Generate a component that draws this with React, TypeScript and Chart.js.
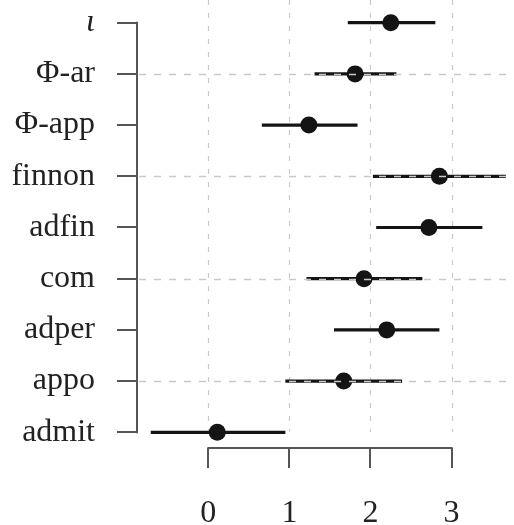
import { useEffect, useRef } from 'react';
import { Chart, registerables } from 'chart.js';

Chart.register(...registerables);

// rows listed bottom to top
const categories = ['admit', 'appo', 'adper', 'com', 'adfin', 'finnon', 'Φ-app', 'Φ-ar', 'ι'];
const estimates = [0.11, 1.67, 2.2, 1.92, 2.72, 2.85, 1.24, 1.81, 2.25];
const lowerBounds = [-0.71, 0.95, 1.55, 1.21, 2.07, 2.03, 0.66, 1.31, 1.72];
const upperBounds = [0.95, 2.39, 2.85, 2.64, 3.38, 3.67, 1.84, 2.32, 2.8];
const xTickValues = [0, 1, 2, 3];
const gridRows = [1, 3, 5, 7];

const FONT = '"Liberation Serif", "Times New Roman", serif';
const AXIS_COLOR = '#555555';
const GRID_COLOR = '#c9c9c9';

const coefPlugin = {
  id: 'coefPlugin',
  beforeDatasetsDraw(chart: any) {
    const { ctx, chartArea } = chart;
    const sx = chart.scales.x;
    const sy = chart.scales.y;
    ctx.save();
    // vertical dashed grid lines (under data)
    ctx.strokeStyle = GRID_COLOR;
    ctx.lineWidth = 1.2;
    ctx.setLineDash([5, 8]);
    xTickValues.forEach((v) => {
      const px = Math.round(sx.getPixelForValue(v)) + 0.5;
      ctx.beginPath();
      ctx.moveTo(px, chartArea.top);
      ctx.lineTo(px, sy.getPixelForValue(0));
      ctx.stroke();
    });
    // error bars
    ctx.setLineDash([]);
    ctx.strokeStyle = '#141414';
    ctx.lineWidth = 3.2;
    ctx.lineCap = 'butt';
    categories.forEach((_, i) => {
      const py = sy.getPixelForValue(i);
      ctx.beginPath();
      ctx.moveTo(sx.getPixelForValue(lowerBounds[i]), py);
      ctx.lineTo(sx.getPixelForValue(upperBounds[i]), py);
      ctx.stroke();
    });
    ctx.restore();
  },
  afterDatasetsDraw(chart: any) {
    const { ctx, chartArea } = chart;
    const sx = chart.scales.x;
    const sy = chart.scales.y;
    ctx.save();
    // horizontal dashed grid lines (over data)
    ctx.strokeStyle = GRID_COLOR;
    ctx.lineWidth = 1.4;
    ctx.setLineDash([7, 8]);
    gridRows.forEach((r) => {
      const py = Math.round(sy.getPixelForValue(r)) + 0.5;
      ctx.beginPath();
      ctx.moveTo(chartArea.left + 2, py);
      ctx.lineTo(chartArea.right, py);
      ctx.stroke();
    });
    ctx.setLineDash([]);
    // R-style axis lines
    ctx.strokeStyle = AXIS_COLOR;
    ctx.lineWidth = 2;
    ctx.beginPath();
    ctx.moveTo(chartArea.left, sy.getPixelForValue(categories.length - 1) - 1);
    ctx.lineTo(chartArea.left, sy.getPixelForValue(0) + 1);
    ctx.stroke();
    ctx.beginPath();
    ctx.moveTo(sx.getPixelForValue(xTickValues[0]) - 1, chartArea.bottom);
    ctx.lineTo(sx.getPixelForValue(xTickValues[xTickValues.length - 1]) + 1, chartArea.bottom);
    ctx.stroke();
    ctx.restore();
  },
};

export default function App() {
  const ref = useRef<HTMLCanvasElement | null>(null);

  useEffect(() => {
    if (!ref.current) return;
    const chart = new Chart(ref.current, {
      type: 'scatter',
      data: {
        datasets: [
          {
            data: estimates.map((v, i) => ({ x: v, y: i })),
            backgroundColor: '#141414',
            borderColor: '#141414',
            pointRadius: 8.5,
            pointHoverRadius: 8.5,
            borderWidth: 0,
            clip: false,
          },
        ],
      },
      options: {
        responsive: false,
        animation: false,
        events: [],
        layout: { padding: 0, autoPadding: false },
        plugins: {
          legend: { display: false },
          tooltip: { enabled: false },
        },
        scales: {
          x: {
            type: 'linear',
            min: -0.88,
            max: 3.77,
            border: { display: false },
            grid: {
              drawOnChartArea: false,
              drawTicks: true,
              tickLength: 20,
              color: AXIS_COLOR,
              lineWidth: 2,
            },
            afterBuildTicks: (s: any) => {
              s.ticks = xTickValues.map((v) => ({ value: v }));
            },
            afterFit: (s: any) => {
              s.height = 77;
              s.paddingLeft = 0;
              s.paddingRight = 0;
              s.paddingTop = 0;
              s.paddingBottom = 0;
            },
            ticks: {
              padding: 26,
              color: '#222222',
              font: { family: FONT, size: 32 },
              maxRotation: 0,
              callback: (v: any) => String(v),
            },
          },
          y: {
            type: 'linear',
            min: -0.307,
            max: 8.443,
            border: { display: false },
            grid: {
              drawOnChartArea: false,
              drawTicks: true,
              tickLength: 20,
              color: AXIS_COLOR,
              lineWidth: 2,
            },
            afterBuildTicks: (s: any) => {
              s.ticks = categories.map((_, i) => ({ value: i }));
            },
            afterFit: (s: any) => {
              s.width = 137;
              s.paddingLeft = 0;
              s.paddingRight = 0;
              s.paddingTop = 0;
              s.paddingBottom = 0;
            },
            ticks: {
              padding: 22,
              color: '#222222',
              font: (c: any) =>
                c.index === categories.length - 1
                  ? { family: FONT, size: 32, style: 'italic' }
                  : { family: FONT, size: 32 },
              callback: (v: any) => categories[v] ?? '',
            },
          },
        },
      },
      plugins: [coefPlugin],
    } as any);
    return () => chart.destroy();
  }, []);

  return (
    <div style={{ position: 'fixed', left: 0, top: 0, width: 514, height: 525, background: '#fff' }}>
      <canvas ref={ref} width={514} height={525} style={{ display: 'block' }} />
    </div>
  );
}
